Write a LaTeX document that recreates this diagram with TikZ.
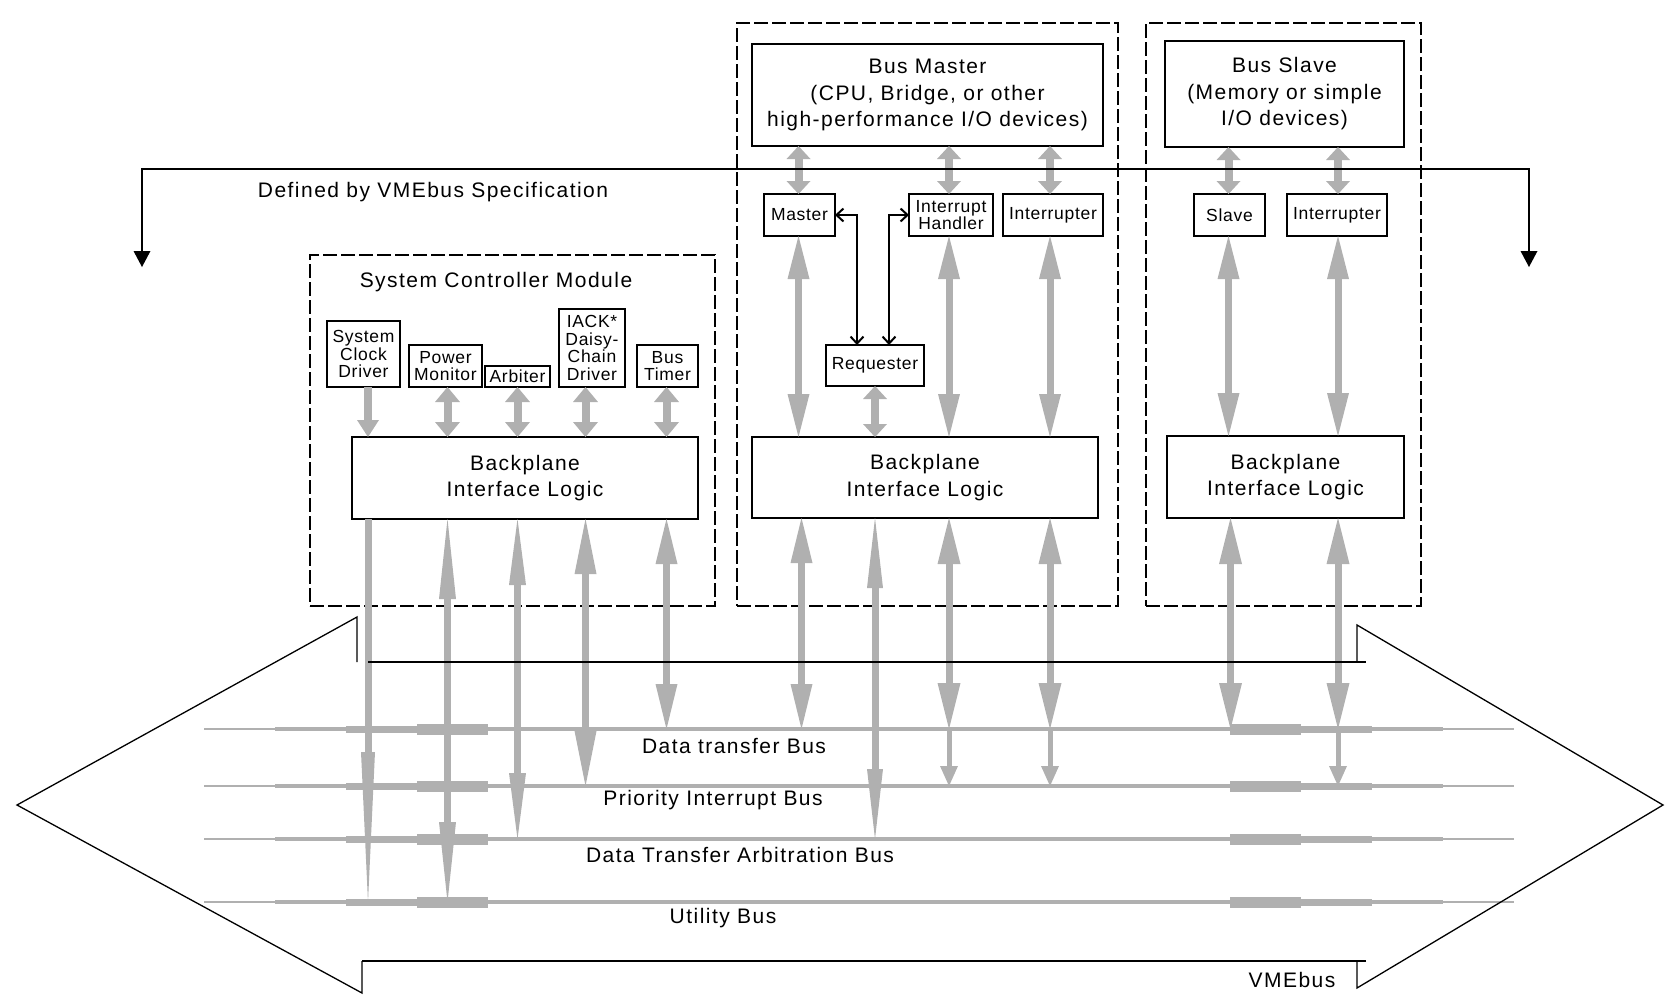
\documentclass[tikz,border=0pt]{standalone}
\usepackage{fontspec}
\setmainfont{Liberation Sans}
\newfontfamily\bigfont[LetterSpace=7]{Liberation Sans}
\newfontfamily\smallfont[LetterSpace=4]{Liberation Sans}
\usetikzlibrary{arrows.meta}
\definecolor{vg}{RGB}{176,176,176}
\begin{document}
\begin{tikzpicture}[x=1pt,y=-1pt,
  every node/.style={inner sep=0pt, outer sep=0pt, align=center, font=\bigfont\fontsize{21}{26.5}\selectfont},
  box/.style={draw=black, line width=1.5pt, fill=white},
  sbox/.style={box, font=\smallfont\fontsize{17.5}{17.5}\selectfont},
  module/.style={draw=black, line width=1.5pt, dash pattern=on 14pt off 4pt},
  ln/.style={draw=black, line width=1.5pt},
  outl/.style={draw=black, line width=1.3pt, line join=miter},
  garr/.style n args={5}{draw=vg, line width=#1, arrows={Triangle[length=#2,width=#3,line width=0pt]-Triangle[length=#4,width=#5,line width=0pt]}},
  gdown/.style n args={3}{draw=vg, line width=#1, arrows={-Triangle[length=#2,width=#3,line width=0pt]}},
  busseg/.style={draw=vg, line width=#1},
  barbs/.style={ln, arrows={Straight Barb[length=7pt,width=13pt,line width=2pt]-Straight Barb[length=7pt,width=13pt,line width=2pt]}},
]
\useasboundingbox (0,0) rectangle (1665,994);

% ---------- bus levels ----------
\coordinate (dtb) at (0,729);
\coordinate (pib) at (0,786);
\coordinate (arb) at (0,839);
\coordinate (ub)  at (0,902);

% ---------- bus lines ----------
\foreach \y in {729,786,839,902} {
  \draw[busseg=4pt]   (486,\y) -- (1232,\y);
  \draw[busseg=1.5pt] (204,\y) -- (275,\y);
  \draw[busseg=4pt]   (275,\y) -- (346,\y);
  \draw[busseg=7pt]   (346,\y) -- (417,\y);
  \draw[busseg=11pt]  (417,\y) -- (488,\y);
  \draw[busseg=11pt]  (1230,\y) -- (1301,\y);
  \draw[busseg=7pt]   (1301,\y) -- (1372,\y);
  \draw[busseg=4pt]   (1372,\y) -- (1443,\y);
  \draw[busseg=1.5pt] (1443,\y) -- (1514,\y);
}

% ---------- modules ----------
\node[module, minimum width=405pt, minimum height=351pt] (scm) at (512.5,430.5) {};
\node[module, minimum width=381pt, minimum height=583pt] (bmm) at (927.5,314.5) {};
\node[module, minimum width=275pt, minimum height=583pt] (bsm) at (1283.5,314.5) {};

\node (scmtitle) at (496,282) {System Controller Module};

% ---------- boxes ----------
\node[box, minimum width=351pt, minimum height=102pt] (busmaster) at (927.5,95)
  {Bus Master\\(CPU, Bridge, or other\\high-performance I/O devices)};
\node[box, minimum width=239pt, minimum height=106pt] (busslave) at (1284.5,94)
  {Bus Slave\\(Memory or simple\\I/O devices)};

\node[sbox, minimum width=71pt, minimum height=42pt] (master) at (799.5,215) {Master};
\node[sbox, minimum width=84pt, minimum height=42pt] (ihandler) at (951,215) {Interrupt\\Handler};
\node[sbox, minimum width=100pt, minimum height=42pt] (intr1) at (1053,215) {Interrupter};
\node[sbox, minimum width=71pt, minimum height=42pt] (slave) at (1229.5,215) {Slave};
\node[sbox, minimum width=100pt, minimum height=42pt] (intr2) at (1337,215) {Interrupter};
\node[sbox, minimum width=98pt, minimum height=41pt] (requester) at (875,365.5) {Requester};

\node[box, minimum width=346pt, minimum height=81pt] (bplbm) at (925,477.5) {Backplane\\Interface Logic};
\node[box, minimum width=237pt, minimum height=82pt] (bplbs) at (1285.5,477) {Backplane\\Interface Logic};
\node[box, minimum width=346pt, minimum height=82pt] (bplscm) at (525,478) {Backplane\\Interface Logic};

\node[sbox, minimum width=73pt, minimum height=66pt] (sysclk) at (363.5,354) {System\\Clock\\Driver};
\node[sbox, minimum width=73pt, minimum height=42pt] (powermon) at (445.5,366) {Power\\Monitor};
\node[sbox, minimum width=65pt, minimum height=21pt] (arbiter) at (517.5,376.5) {Arbiter};
\node[sbox, minimum width=66pt, minimum height=78pt] (iack) at (592,348) {IACK*\\Daisy-\\Chain\\Driver};
\node[sbox, minimum width=61pt, minimum height=42pt] (bustimer) at (667.5,366) {Bus\\Timer};

% ---------- column coordinates ----------
\coordinate (k1) at ([xshift=4.5pt]sysclk.south);
\coordinate (k2) at ([xshift=2pt]powermon.south);
\coordinate (k3) at (arbiter.south);
\coordinate (k4) at ([xshift=-6.5pt]iack.south);
\coordinate (k5) at ([xshift=-1pt]bustimer.south);
\coordinate (m1) at ([xshift=-1pt]master.south);
\coordinate (m2) at (requester.south);
\coordinate (m3) at ([xshift=-2pt]ihandler.south);
\coordinate (m4) at ([xshift=-3pt]intr1.south);
\coordinate (s1) at ([xshift=-1pt]slave.south);
\coordinate (s2) at ([xshift=1pt]intr2.south);

% ---------- upper short arrows ----------
\foreach \c/\b in {m1/master, m3/ihandler, m4/intr1}
  \draw[garr={8pt}{13pt}{24pt}{13pt}{24pt}] (\c |- busmaster.south) -- (\c |- \b.north);
\foreach \c/\b in {s1/slave, s2/intr2}
  \draw[garr={8pt}{13pt}{24pt}{13pt}{24pt}] (\c |- busslave.south) -- (\c |- \b.north);

% ---------- middle long arrows ----------
\foreach \c in {m1, m3, m4}
  \draw[garr={7pt}{43pt}{22pt}{43pt}{22pt}] (\c) -- (\c |- bplbm.north);
\foreach \c in {s1, s2}
  \draw[garr={7pt}{43pt}{22pt}{43pt}{22pt}] (\c) -- (\c |- bplbs.north);
\draw[garr={8pt}{13pt}{24pt}{13pt}{24pt}] (m2) -- (m2 |- bplbm.north);

% ---------- SCM internal arrows ----------
\draw[gdown={8pt}{17pt}{22pt}] (k1) -- (k1 |- bplscm.north);
\foreach \c in {k2, k3, k4, k5}
  \draw[garr={8pt}{15pt}{25pt}{15pt}{25pt}] (\c) -- (\c |- bplscm.north);

% ---------- arrows to the buses ----------
\draw[gdown={7pt}{150pt}{14pt}] (k1 |- bplscm.south) -- (k1 |- ub);
\draw[garr={7pt}{80pt}{17pt}{80pt}{17pt}] (k2 |- bplscm.south) -- (k2 |- ub);
\draw[garr={7pt}{66pt}{17pt}{66pt}{17pt}] (k3 |- bplscm.south) -- (k3 |- arb);
\draw[garr={7pt}{55pt}{22pt}{55pt}{22pt}] (k4 |- bplscm.south) -- (k4 |- pib);
\draw[garr={7pt}{45pt}{22pt}{45pt}{22pt}] (k5 |- bplscm.south) -- (k5 |- dtb);

\draw[garr={7pt}{45pt}{22pt}{45pt}{22pt}] ([xshift=3pt]m1 |- bplbm.south) -- ([xshift=3pt]m1 |- dtb);
\draw[garr={7pt}{70pt}{16pt}{70pt}{16pt}] (m2 |- bplbm.south) -- (m2 |- arb);
\foreach \c in {m3, m4} {
  \draw[garr={7pt}{46pt}{23pt}{46pt}{23pt}] (\c |- bplbm.south) -- (\c |- dtb);
  \draw[gdown={5pt}{20pt}{18pt}] (\c |- dtb) -- (\c |- pib);
}
\draw[garr={7pt}{46pt}{23pt}{46pt}{23pt}] ([xshift=2pt]s1 |- bplbs.south) -- ([xshift=2pt]s1 |- dtb);
\draw[garr={7pt}{46pt}{23pt}{46pt}{23pt}] (s2 |- bplbs.south) -- (s2 |- dtb);
\draw[gdown={5pt}{20pt}{18pt}] (s2 |- dtb) -- (s2 |- pib);

% ---------- Master / Interrupt Handler <-> Requester ----------
\coordinate (r1) at ([xshift=-18pt]requester.north);
\coordinate (r2) at ([xshift=14pt]requester.north);
\draw[barbs] (master.east) -| (r1);
\draw[barbs] (ihandler.west) -| (r2);

% ---------- VMEbus specification bracket ----------
\coordinate (spl) at (142,267);
\coordinate (spr) at (1529,267);
\coordinate (spt) at (142,169);
\draw[ln, arrows={Triangle[length=16pt,width=17pt,line width=0pt]-Triangle[length=16pt,width=17pt,line width=0pt]}]
  (spl) -- (spt) -- (spt -| spr) -- (spr);
\node (spec) at (433,192) {Defined by VMEbus Specification};

% ---------- VMEbus outline arrow ----------
\draw[outl] (357,662) -- (357,617) -- (17,805) -- (362,993) -- (362,961);
\draw[outl] (368,662) -- (1366,662);
\draw[outl] (1366,961) -- (362,961);
\draw[outl] (1357,662) -- (1357,625) -- (1663,805) -- (1357,988) -- (1357,961);

% ---------- bus labels ----------
\node (lbl1) at (734,746) {Data transfer Bus};
\node (lbl2) at (713,800) {Priority Interrupt Bus};
\node (lbl3) at (740,855) {Data Transfer Arbitration Bus};
\node (lbl4) at (723,918) {Utility Bus};
\node (vme) at (1292,980) {VMEbus};
\end{tikzpicture}
\end{document}
